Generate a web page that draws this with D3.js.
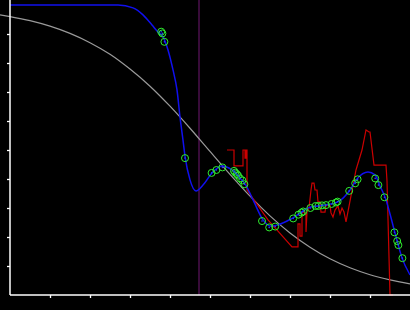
<!DOCTYPE html>
<html>
<head>
<meta charset="utf-8">
<script src="https://cdn.jsdelivr.net/npm/d3@7"></script>
<style>
  html, body { margin: 0; padding: 0; background: #000; }
  svg { display: block; }
</style>
</head>
<body>
<div id="chart"></div>
<script>
// Values (x 0..10, y 0..10)
const xTicks = [1, 2, 3, 4, 5, 6, 7, 8, 9];
const yTicks = [1, 2, 3, 4, 5, 6, 7, 8, 9];
const cutoffX = 4.725;

const grayCurve = [
  [-0.25, 9.66], [0, 9.60], [0.5, 9.46], [1, 9.27], [1.5, 9.02], [2, 8.70],
  [2.5, 8.30], [3, 7.79], [3.5, 7.20], [4, 6.51], [4.5, 5.75], [5, 4.95],
  [5.5, 4.16], [6, 3.41], [6.5, 2.73], [7, 2.14], [7.5, 1.65], [8, 1.25],
  [8.5, 0.94], [9, 0.70], [9.5, 0.52], [10, 0.38]
];

const blueCurve = [
  [0, 10], [1.5, 10], [2.7, 10], [3.075, 9.90], [3.325, 9.66], [3.55, 9.31],
  [3.70, 9.07], [3.825, 8.90], [3.95, 8.45], [4.075, 7.76], [4.175, 7.07],
  [4.25, 6.14], [4.325, 5.34], [4.375, 4.79], [4.5, 3.97], [4.65, 3.59],
  [4.825, 3.79], [5.05, 4.21], [5.3, 4.45], [5.55, 4.31], [5.75, 4.03],
  [5.875, 3.83], [6.1, 3.21], [6.325, 2.59], [6.5, 2.38], [6.675, 2.41],
  [7.075, 2.66], [7.5, 3.03], [7.875, 3.10], [8.2, 3.21], [8.5, 3.62],
  [8.675, 4.00], [8.95, 4.24], [9.125, 4.14], [9.25, 3.76], [9.375, 3.38],
  [9.625, 2.14], [9.8, 1.28], [10, 0.69]
];

const redTrace = [
  [5.425, 5.00], [5.60, 5.00], [5.60, 4.45], [5.825, 4.45], [5.825, 5.00],
  [5.875, 5.00], [5.875, 4.72], [5.90, 4.72], [5.90, 5.00], [5.925, 5.00],
  [5.925, 3.62], [6.45, 2.59], [7.05, 1.66], [7.20, 1.66], [7.20, 2.45],
  [7.25, 2.45], [7.25, 2.03], [7.30, 2.03], [7.30, 2.86], [7.35, 2.86],
  [7.40, 2.79], [7.40, 2.17], [7.425, 2.86], [7.475, 3.00], [7.525, 3.62],
  [7.55, 3.86], [7.60, 3.86], [7.625, 3.62], [7.675, 3.62], [7.70, 3.21],
  [7.75, 3.21], [7.775, 2.86], [7.875, 2.86], [7.90, 3.10], [8.00, 3.10],
  [8.025, 2.83], [8.075, 2.69], [8.125, 2.93], [8.20, 3.07], [8.25, 2.79],
  [8.30, 3.00], [8.35, 2.86], [8.40, 2.52], [8.65, 4.31], [8.80, 5.00],
  [8.90, 5.69], [8.975, 5.62], [9.00, 5.62], [9.10, 4.48], [9.40, 4.48],
  [9.425, 3.93], [9.50, 0.00], [9.575, 0.00]
];

const markerPoints = [
  [3.78, 9.08], [3.81, 9.02], [3.86, 8.73], [4.375, 4.72], [5.04, 4.21],
  [5.16, 4.31], [5.31, 4.40], [5.60, 4.28], [5.63, 4.22], [5.67, 4.17],
  [5.70, 4.12], [5.75, 4.02], [5.81, 3.95], [5.86, 3.82], [6.30, 2.55],
  [6.48, 2.33], [6.63, 2.36], [7.08, 2.64], [7.21, 2.77], [7.29, 2.84],
  [7.33, 2.88], [7.51, 3.00], [7.64, 3.07], [7.71, 3.07], [7.80, 3.09],
  [7.90, 3.10], [8.04, 3.14], [8.15, 3.19], [8.19, 3.22], [8.48, 3.59],
  [8.63, 3.85], [8.69, 3.99], [9.13, 4.02], [9.21, 3.79], [9.36, 3.37],
  [9.61, 2.16], [9.68, 1.86], [9.71, 1.72], [9.81, 1.27]
];

const width = 410;
const height = 310;
const margin = {left: 10, right: 0, top: 5, bottom: 15};

const svg = d3.select('#chart')
  .append('svg')
  .attr('width', width)
  .attr('height', height)
  .style('background', '#000');

const x = d3.scaleLinear().domain([0, 10]).range([margin.left, width - margin.right]);
const y = d3.scaleLinear().domain([0, 10]).range([height - margin.bottom, margin.top]);

const line = d3.line().x(d => x(d[0])).y(d => y(d[1]));

// vertical cutoff marker
svg.append('line')
  .attr('x1', x(cutoffX)).attr('x2', x(cutoffX))
  .attr('y1', 0).attr('y2', y(0))
  .attr('stroke', '#5e1460')
  .attr('stroke-width', 1.2);

// gray reference curve
svg.append('path')
  .datum(grayCurve)
  .attr('d', line.curve(d3.curveMonotoneX))
  .attr('fill', 'none')
  .attr('stroke', '#9a9a9a')
  .attr('stroke-width', 1.2);

// red raw trace
svg.append('path')
  .datum(redTrace)
  .attr('d', line.curve(d3.curveLinear))
  .attr('fill', 'none')
  .attr('stroke', '#cc0000')
  .attr('stroke-width', 1.2);

// blue fit
svg.append('path')
  .datum(blueCurve)
  .attr('d', line.curve(d3.curveMonotoneX))
  .attr('fill', 'none')
  .attr('stroke', '#1010ee')
  .attr('stroke-width', 1.5);

// green markers with centre dots
const marks = svg.append('g');
marks.selectAll('circle.ring')
  .data(markerPoints)
  .join('circle')
  .attr('class', 'ring')
  .attr('cx', d => x(d[0]))
  .attr('cy', d => y(d[1]))
  .attr('r', 3.5)
  .attr('fill', 'none')
  .attr('stroke', '#2fee2f')
  .attr('stroke-width', 1);
marks.selectAll('circle.dot')
  .data(markerPoints)
  .join('circle')
  .attr('class', 'dot')
  .attr('cx', d => x(d[0]))
  .attr('cy', d => y(d[1]))
  .attr('r', 0.8)
  .attr('fill', '#2040ff');

// axes
const xAxis = svg.append('g')
  .attr('transform', `translate(0,${y(0)})`)
  .call(d3.axisBottom(x).tickValues(xTicks).tickSize(3).tickSizeOuter(0).tickFormat(''));
const yAxis = svg.append('g')
  .attr('transform', `translate(${x(0)},0)`)
  .call(d3.axisLeft(y).tickValues(yTicks).tickSize(3).tickSizeOuter(0).tickFormat(''));

[xAxis, yAxis].forEach(g => {
  g.select('.domain').remove();
  g.selectAll('.tick line').attr('stroke', '#fff').attr('stroke-width', 1.3);
});

svg.append('line')
  .attr('x1', x(0)).attr('x2', x(10))
  .attr('y1', y(0)).attr('y2', y(0))
  .attr('stroke', '#fff').attr('stroke-width', 1.5);
svg.append('line')
  .attr('x1', x(0)).attr('x2', x(0))
  .attr('y1', 0).attr('y2', y(0))
  .attr('stroke', '#fff').attr('stroke-width', 1.5);
</script>
</body>
</html>
